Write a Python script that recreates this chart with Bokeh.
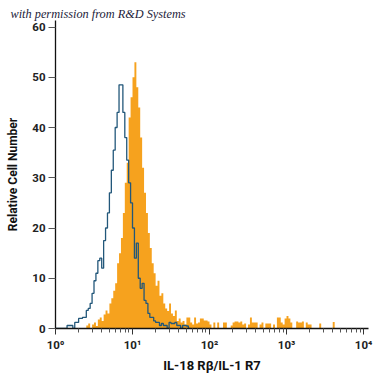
import numpy as np
from bokeh.plotting import figure
from bokeh.models import Range1d, FixedTicker
from bokeh.embed import file_html
from bokeh.resources import INLINE

# ---- data (histogram channels in log10 units) ----
bin_width_log = 0.025
orange_start_log = 0.40
orange_counts = [
    0.6, 1.0, 0.0, 0.8, 1.2, 0.5, 1.8, 2.2, 1.5, 2.8,
    3.6, 3.0, 5.0, 6.0, 7.5, 9.0, 13.0, 15.0, 18.0, 23.0,
    29.0, 33.0, 42.0, 46.0, 50.0, 53.0, 48.0, 44.0, 38.0, 32.0,
    27.0, 23.0, 19.0, 16.0, 13.0, 11.0, 8.5, 9.5, 6.5, 7.0,
    5.0, 4.0, 3.5, 5.0, 3.0, 2.5, 3.6, 1.5, 2.0, 1.2,
    1.5, 0.8, 2.2, 2.2, 1.2, 0.8, 2.2, 1.0, 1.2, 2.0,
    2.0, 1.6, 1.6, 1.4, 0.8, 0.0, 1.2, 0.0, 1.2, 0.0,
    0.0, 1.2, 1.2, 0.0, 0.0, 0.6, 1.2, 1.4, 1.4, 1.2,
    1.4, 0.8, 1.0, 0.0, 0.8, 2.2, 1.2, 1.2, 1.2, 0.0,
    0.8, 1.2, 0.0, 1.0, 1.0, 1.0, 0.0, 0.8, 0.0, 2.2,
    2.2, 1.2, 0.8, 2.0, 2.5, 2.0, 1.2, 0.0, 0.0, 1.4,
    1.2, 1.2, 1.4, 0.0, 1.2, 0.8, 0.8, 0.0, 0.0, 0.0,
    0.0, 1.0, 0.0, 0.0, 0.0, 0.0, 0.0, 0.0, 1.3,
]
blue_start_log = 0.0
blue_counts = [
    0.0, 0.0, 0.0, 0.0, 0.0, 0.0, 0.6, 0.6, 0.6, 0.0,
    1.2, 1.2, 2.0, 2.0, 2.2, 2.2, 3.6, 4.0, 5.0, 7.0,
    9.5, 11.0, 13.5, 14.0, 12.0, 17.5, 20.0, 23.0, 27.0, 31.5,
    35.5, 40.0, 43.0, 48.5, 48.5, 43.0, 38.0, 33.5, 29.0, 25.0,
    20.0, 14.0, 17.0, 10.0, 8.0, 9.0, 5.6, 5.0, 3.0, 2.2,
    2.2, 1.5, 1.2, 1.2, 0.6, 1.0, 0.6, 0.6, 0.0, 1.2,
    1.0, 1.0, 1.2, 0.6, 0.6, 0.0, 0.6, 0.6, 0.5, 0.0,
]
x_tick_values = [1, 10, 100, 1000, 10000]
x_tick_labels = ["10\u2070", "10\u00b9", "10\u00b2", "10\u00b3", "10\u2074"]
y_tick_values = [0, 10, 20, 30, 40, 50, 60]
watermark_text = "with permission from R&D Systems"

FONT = "Roboto"

o_edges = 10 ** (orange_start_log + bin_width_log * np.arange(len(orange_counts) + 1))
b_edges = 10 ** (blue_start_log + bin_width_log * np.arange(len(blue_counts) + 1))

Y_END = 61.3
p = figure(width=375, height=375, x_axis_type="log",
           x_range=Range1d(1, 11600), y_range=Range1d(0, Y_END),
           output_backend="svg", toolbar_location=None,
           min_border_left=55, min_border_right=7,
           min_border_top=20, min_border_bottom=45)
p.background_fill_color = "white"
p.border_fill_color = "white"
p.outline_line_color = None
p.grid.visible = False

# watermark as a left-aligned title shifted over the y-axis area
p.title.text = watermark_text
p.title.text_font = "Liberation Serif"
p.title.text_font_style = "italic"
p.title.text_font_size = "12.3px"
p.title.text_color = "#1c1c3a"
p.title.text_line_height = 0.9
p.title.align = "left"
p.title.offset = -45
p.title.standoff = 0

p.varea_step(x=list(o_edges), y1=[0.0] * len(o_edges),
             y2=list(orange_counts) + [0.0], step_mode="after",
             fill_color="#F6A21E")

p.step(x=list(b_edges), y=list(blue_counts) + [0.0], mode="after",
       line_color="#22577A", line_width=1.3)

# x axis
xa = p.xaxis[0]
xa.ticker = FixedTicker(ticks=x_tick_values,
                        minor_ticks=[m * 10 ** d for d in range(4) for m in range(2, 10)])
xa.major_label_overrides = {v: l for v, l in zip(x_tick_values, x_tick_labels)}
xa.axis_label = "IL-18 R\u03b2/IL-1 R7"
xa.axis_label_text_font = FONT
xa.axis_label_text_font_style = "bold"
xa.axis_label_text_font_size = "13px"
xa.axis_label_text_color = "#111111"
xa.axis_label_standoff = 3
xa.major_label_text_font = FONT
xa.major_label_text_font_style = "bold"
xa.major_label_text_font_size = "11.5px"
xa.major_label_text_color = "#222222"
xa.major_label_standoff = 3
xa.major_tick_out = 6
xa.major_tick_in = 0
xa.minor_tick_out = 4
xa.minor_tick_in = 0
xa.axis_line_color = "#111111"
xa.axis_line_width = 1.3
xa.major_tick_line_color = "#333333"
xa.minor_tick_line_color = "#555555"

# y axis
ya = p.yaxis[0]
ya.ticker = FixedTicker(ticks=y_tick_values)
ya.axis_label = "Relative Cell Number"
ya.axis_label_text_font = FONT
ya.axis_label_text_font_style = "bold"
ya.axis_label_text_font_size = "12px"
ya.axis_label_text_color = "#111111"
ya.axis_label_standoff = 9
ya.major_label_text_font = FONT
ya.major_label_text_font_style = "bold"
ya.major_label_text_font_size = "11.5px"
ya.major_label_text_color = "#222222"
ya.major_label_standoff = 3
ya.major_tick_out = 7
ya.major_tick_in = 0
ya.minor_tick_out = 0
ya.minor_tick_in = 0
ya.axis_line_color = "#111111"
ya.axis_line_width = 1.3
ya.major_tick_line_color = "#555555"

open("out.html", "w").write(file_html(p, INLINE))
